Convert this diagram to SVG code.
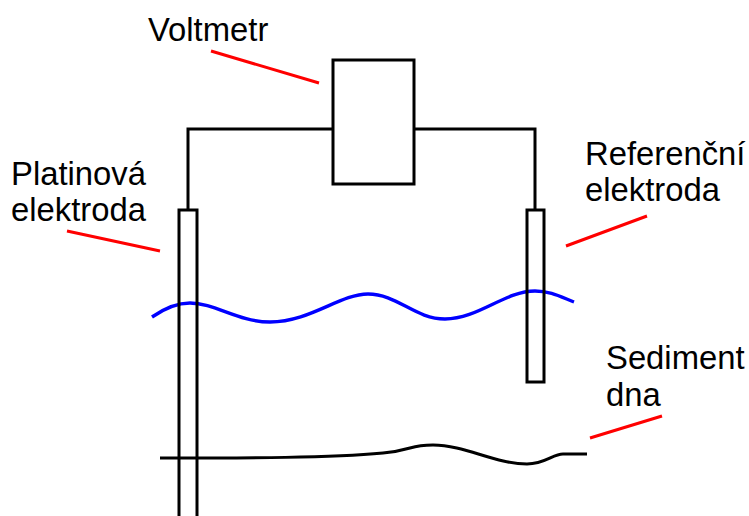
<svg xmlns="http://www.w3.org/2000/svg" width="749" height="516" viewBox="0 0 749 516">
<style>
.l{font:32.8px "Liberation Sans",Arial,sans-serif;fill:#000}
.k{fill:none;stroke:#000;stroke-width:3}
.r{fill:none;stroke:#f00;stroke-width:3}
</style>
<rect width="749" height="516" fill="#fff"/>
<g id="connectors">
<path class="k" d="M188 210V129H333M414 129H535V210"/>
<path id="water" fill="none" stroke="#00f" stroke-width="3.4" d="M152 317C165 308 177 303 190 303C215 303 238 322 270 322C310 322 340 294 368 294C397 294 415 319 445 319C478 319 505 291 535 291C550 291 561 297 574 302"/>
<path id="sediment" class="k" d="M160 458C250 458 330 458 383 453C395 452 403 450 410 448C420 445 425 445 433 445C465 445 495 464 527 464C545 464 553 454 563 454L587 454"/>
<path class="r" d="M211 51L319 83M67 231L160 251M566 246L647 216M590 438L662 416"/>
</g>
<g id="voltmetr"><rect class="k" x="333" y="60" width="81" height="124" fill="#fff"/><text class="l" x="148" y="41">Voltmetr</text></g>
<g id="platinova"><rect class="k" x="179" y="210" width="18" height="310"/><text class="l" x="11" y="185">Platinová</text><text class="l" x="11" y="221">elektroda</text></g>
<g id="referencni"><rect class="k" x="527" y="210" width="17" height="172"/><text class="l" x="585" y="165">Referenční</text><text class="l" x="585" y="201">elektroda</text></g>
<g id="sediment-label"><text class="l" x="606" y="369">Sediment</text><text class="l" x="606" y="406">dna</text></g>
</svg>
